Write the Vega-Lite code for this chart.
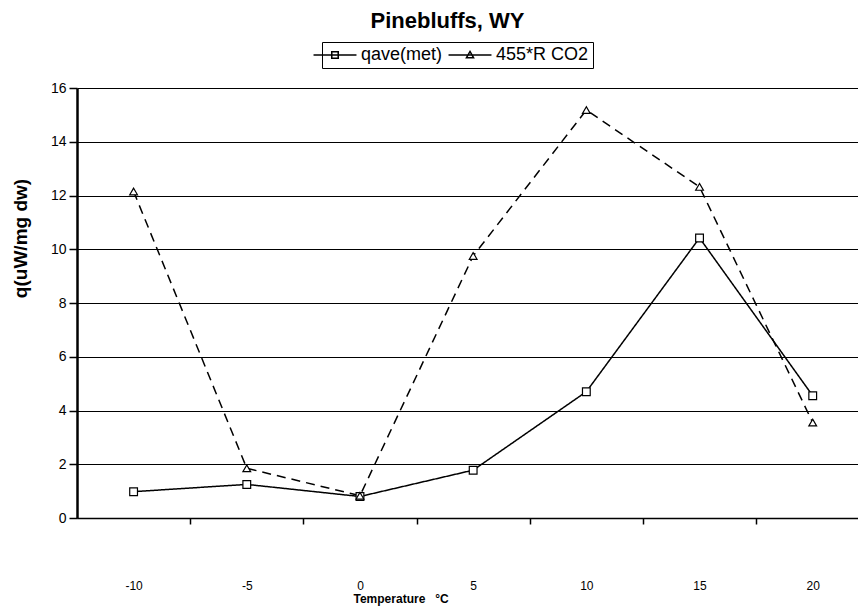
{
  "$schema": "https://vega.github.io/schema/vega-lite/v6.json",
  "width": 781,
  "height": 430,
  "autosize": {"type": "none"},
  "padding": {"left": 77, "top": 88, "right": 0, "bottom": 91},
  "background": "white",
  "title": {"text": "Pinebluffs, WY", "fontSize": 22, "font": "Liberation Sans", "fontWeight": "bold", "color": "black", "anchor": "middle", "dx": -20, "offset": -8, "baseline": "alphabetic"},
  "config": {"view": {"stroke": null}, "font": "Liberation Sans"},
  "data": {"values": [
    {"t": -10, "q": 0.98, "series": "qave(met)"},
    {"t": -5, "q": 1.25, "series": "qave(met)"},
    {"t": 0, "q": 0.8, "series": "qave(met)"},
    {"t": 5, "q": 1.78, "series": "qave(met)"},
    {"t": 10, "q": 4.7, "series": "qave(met)"},
    {"t": 15, "q": 10.42, "series": "qave(met)"},
    {"t": 20, "q": 4.55, "series": "qave(met)"},
    {"t": -10, "q": 12.15, "series": "455*R CO2"},
    {"t": -5, "q": 1.85, "series": "455*R CO2"},
    {"t": 0, "q": 0.83, "series": "455*R CO2"},
    {"t": 5, "q": 9.75, "series": "455*R CO2"},
    {"t": 10, "q": 15.18, "series": "455*R CO2"},
    {"t": 15, "q": 12.32, "series": "455*R CO2"},
    {"t": 20, "q": 3.55, "series": "455*R CO2"}
  ]},
  "layer": [
    {
      "mark": {"type": "line", "color": "black", "strokeWidth": 1.5},
      "encoding": {
        "x": {"field": "t", "type": "quantitative",
          "scale": {"domain": [-12.5, 22], "nice": false, "zero": false},
          "axis": {"title": "Temperature\u00a0\u00a0\u00a0°C", "values": [-10, -7.5, -5, -2.5, 0, 2.5, 5, 7.5, 10, 12.5, 15, 17.5, 20],
            "labelExpr": "datum.value % 5 === 0 ? '' + datum.value : ''",
            "tickOpacity": {"condition": {"test": "datum.value % 5 === 0", "value": 0}, "value": 1},
            "tickSize": 6, "tickColor": "black", "tickWidth": 1.5,
            "domainColor": "black", "domainWidth": 1.5, "grid": false,
            "labelPadding": 56, "labelFontSize": 12, "labelColor": "black", "labelOverlap": false, "labelFlush": false,
            "titleFontSize": 12, "titleFontWeight": "bold", "titleColor": "black",
            "titleX": 276, "titleY": 80, "titleAlign": "left", "titleBaseline": "middle"}},
        "y": {"field": "q", "type": "quantitative",
          "scale": {"domain": [0, 16], "nice": false},
          "axis": {"title": "q(uW/mg dw)", "values": [0, 2, 4, 6, 8, 10, 12, 14, 16],
            "grid": true, "gridColor": "black", "gridWidth": 1.2, "gridOpacity": 1,
            "domainColor": "black", "domainWidth": 2.5,
            "tickColor": "black", "tickSize": 8, "tickWidth": 1.5,
            "labelFontSize": 14, "labelPadding": 3, "labelColor": "black",
            "titleFontSize": 19, "titleFontWeight": "bold", "titleColor": "black",
            "titleX": -57, "titleY": 150, "titleBaseline": "middle", "titleAlign": "center"}},
        "strokeDash": {"field": "series", "type": "nominal",
          "scale": {"domain": ["qave(met)", "455*R CO2"], "range": [[1, 0], [9, 6]]}, "legend": null}
      }
    },
    {
      "mark": {"type": "point", "filled": true, "fill": "white", "stroke": "black", "strokeWidth": 1.2, "size": 60, "opacity": 1},
      "encoding": {
        "x": {"field": "t", "type": "quantitative"},
        "y": {"field": "q", "type": "quantitative"},
        "shape": {"field": "series", "type": "nominal",
          "scale": {"domain": ["qave(met)", "455*R CO2"], "range": ["square", "triangle-up"]}, "legend": null}
      }
    },
    {
      "transform": [{"filter": "false"}],
      "mark": {"type": "point", "filled": false, "color": "black", "strokeWidth": 1.5},
      "encoding": {
        "shape": {"field": "series", "type": "nominal",
          "scale": {"domain": ["qave(met)", "455*R CO2"],
            "range": ["M-3,0H3M-0.45,-0.45H0.45V0.45H-0.45Z", "M-3,0H3M0,-0.5L0.5,0.4H-0.5Z"]},
          "legend": {"orient": "none", "legendX": 245, "legendY": -46, "direction": "horizontal", "title": null,
            "labelFontSize": 18, "labelColor": "black", "labelOffset": 17, "columnPadding": 2,
            "symbolSize": 205, "symbolStrokeColor": "black", "symbolFillColor": "white", "symbolStrokeWidth": 1.5, "symbolOpacity": 1,
            "strokeColor": "black", "padding": 4}}
      }
    }
  ],
  "resolve": {"scale": {"shape": "independent"}, "legend": {"shape": "independent"}}
}
